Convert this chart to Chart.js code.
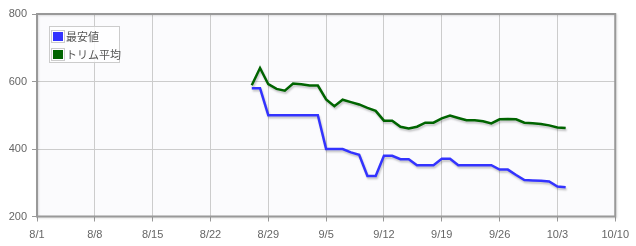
<!DOCTYPE html>
<html>
<head>
<meta charset="utf-8">
<script src="https://cdn.jsdelivr.net/npm/chart.js@4"></script>
<style>
html, body { margin: 0; padding: 0; background: #fff; }
</style>
</head>
<body>
<canvas id="priceChart" width="636" height="246"></canvas>
<script>
// data
var dates = ['8/27','8/28','8/29','8/30','8/31',
  '9/1','9/2','9/3','9/4','9/5','9/6','9/7','9/8','9/9','9/10',
  '9/11','9/12','9/13','9/14','9/15','9/16','9/17','9/18','9/19','9/20',
  '9/21','9/22','9/23','9/24','9/25','9/26','9/27','9/28','9/29','9/30',
  '10/1','10/2','10/3','10/4'];
var minPrice = [580,580,500,500,500,
  500,500,500,500,400,400,400,390,383,320,
  320,380,380,370,370,352,352,352,371,371,
  352,352,352,352,352,339,339,323,308,307,
  306,304,289,287];
var trimAvg = [589,640,592,578,573,
  594,592,588,588,547,527,546,539,532,522,
  513,484,484,466,461,466,478,478,491,499,
  492,485,485,482,476,488,489,488,478,476,
  474,470,464,462];
var tickLabels = ['8/1','8/8','8/15','8/22','8/29','9/5','9/12','9/19','9/26','10/3','10/10'];
var seriesNames = ['最安値', 'トリム平均'];
var seriesColors = ['rgb(51,51,255)', 'rgb(0,100,0)'];

var monthStart = {8: 0, 9: 31, 10: 61};
function dayNo(s) {
  var p = s.split('/');
  return monthStart[+p[0]] + (+p[1]) - 1;
}
function toPoints(vals) {
  return dates.map(function (d, i) { return {x: dayNo(d), y: vals[i]}; });
}

var plotBg = {
  id: 'plotBg',
  beforeDraw: function (chart) {
    var a = chart.chartArea, ctx = chart.ctx;
    ctx.save();
    ctx.fillStyle = '#fbfbfd';
    ctx.fillRect(a.left, a.top, a.right - a.left, a.bottom - a.top);
    ctx.restore();
  }
};

var lineShadow = {
  id: 'lineShadow',
  beforeDatasetDraw: function (chart) {
    var ctx = chart.ctx;
    ctx.save();
    ctx.shadowColor = 'rgba(0,0,0,0.22)';
    ctx.shadowOffsetX = 1;
    ctx.shadowOffsetY = 2;
    ctx.shadowBlur = 2;
  },
  afterDatasetDraw: function (chart) {
    chart.ctx.restore();
  }
};

var frameAndLegend = {
  id: 'frameAndLegend',
  afterDraw: function (chart) {
    var a = chart.chartArea, ctx = chart.ctx;
    ctx.save();
    ctx.shadowColor = 'rgba(0,0,0,0.12)';
    ctx.shadowOffsetX = 1;
    ctx.shadowOffsetY = 1;
    ctx.shadowBlur = 2;
    ctx.strokeStyle = '#999';
    ctx.lineWidth = 2;
    ctx.strokeRect(a.left, a.top, a.right - a.left, a.bottom - a.top);
    ctx.restore();

    // legend inside the plot, top left
    ctx.save();
    ctx.fillStyle = 'rgba(255,255,255,0.8)';
    ctx.fillRect(49, 26, 71, 37);
    ctx.strokeStyle = '#ccc';
    ctx.lineWidth = 1;
    ctx.strokeRect(49.5, 26.5, 70, 36);
    ctx.font = '11px "Noto Sans CJK JP", sans-serif';
    ctx.textBaseline = 'middle';
    chart.data.datasets.forEach(function (ds, i) {
      var y = 30 + i * 18;
      ctx.strokeStyle = '#ccc';
      ctx.strokeRect(51.5, y + 0.5, 13, 12);
      ctx.fillStyle = ds.borderColor;
      ctx.fillRect(53, y + 2, 10, 9);
      ctx.fillStyle = '#555';
      ctx.fillText(ds.label, 66, y + 6.5);
    });
    ctx.restore();
  }
};

var ctx = document.getElementById('priceChart').getContext('2d');
var chart = new Chart(ctx, {
  type: 'line',
  data: {
    datasets: [{
      label: seriesNames[0],
      data: toPoints(minPrice),
      borderColor: seriesColors[0],
      backgroundColor: seriesColors[0],
      borderWidth: 2.5,
      pointRadius: 0,
      tension: 0
    }, {
      label: seriesNames[1],
      data: toPoints(trimAvg),
      borderColor: seriesColors[1],
      backgroundColor: seriesColors[1],
      borderWidth: 2.5,
      pointRadius: 0,
      tension: 0
    }]
  },
  options: {
    responsive: false,
    animation: false,
    layout: { padding: { top: 14, right: 19, bottom: 0, left: 0 } },
    plugins: {
      legend: { display: false },
      tooltip: { enabled: false }
    },
    scales: {
      x: {
        type: 'linear',
        min: 0,
        max: 70,
        afterBuildTicks: function (scale) {
          scale.ticks = tickLabels.map(function (t, i) { return {value: i * 7}; });
        },
        afterFit: function (scale) { scale.height = 29.5; },
        grid: { color: '#ccc', tickColor: '#999', tickLength: 5 },
        border: { display: false },
        ticks: {
          autoSkip: false,
          maxRotation: 0,
          padding: 7,
          color: '#666',
          font: { family: 'Liberation Sans', size: 11 },
          callback: function (v) { return tickLabels[Math.round(v / 7)]; }
        }
      },
      y: {
        min: 200,
        max: 800,
        afterFit: function (scale) { scale.width = 37; },
        grid: { color: '#ccc', tickColor: '#999', tickLength: 5 },
        border: { display: false },
        ticks: {
          stepSize: 200,
          padding: 5,
          color: '#666',
          font: { family: 'Liberation Sans', size: 11 }
        }
      }
    }
  },
  plugins: [plotBg, lineShadow, frameAndLegend]
});
</script>
</body>
</html>
